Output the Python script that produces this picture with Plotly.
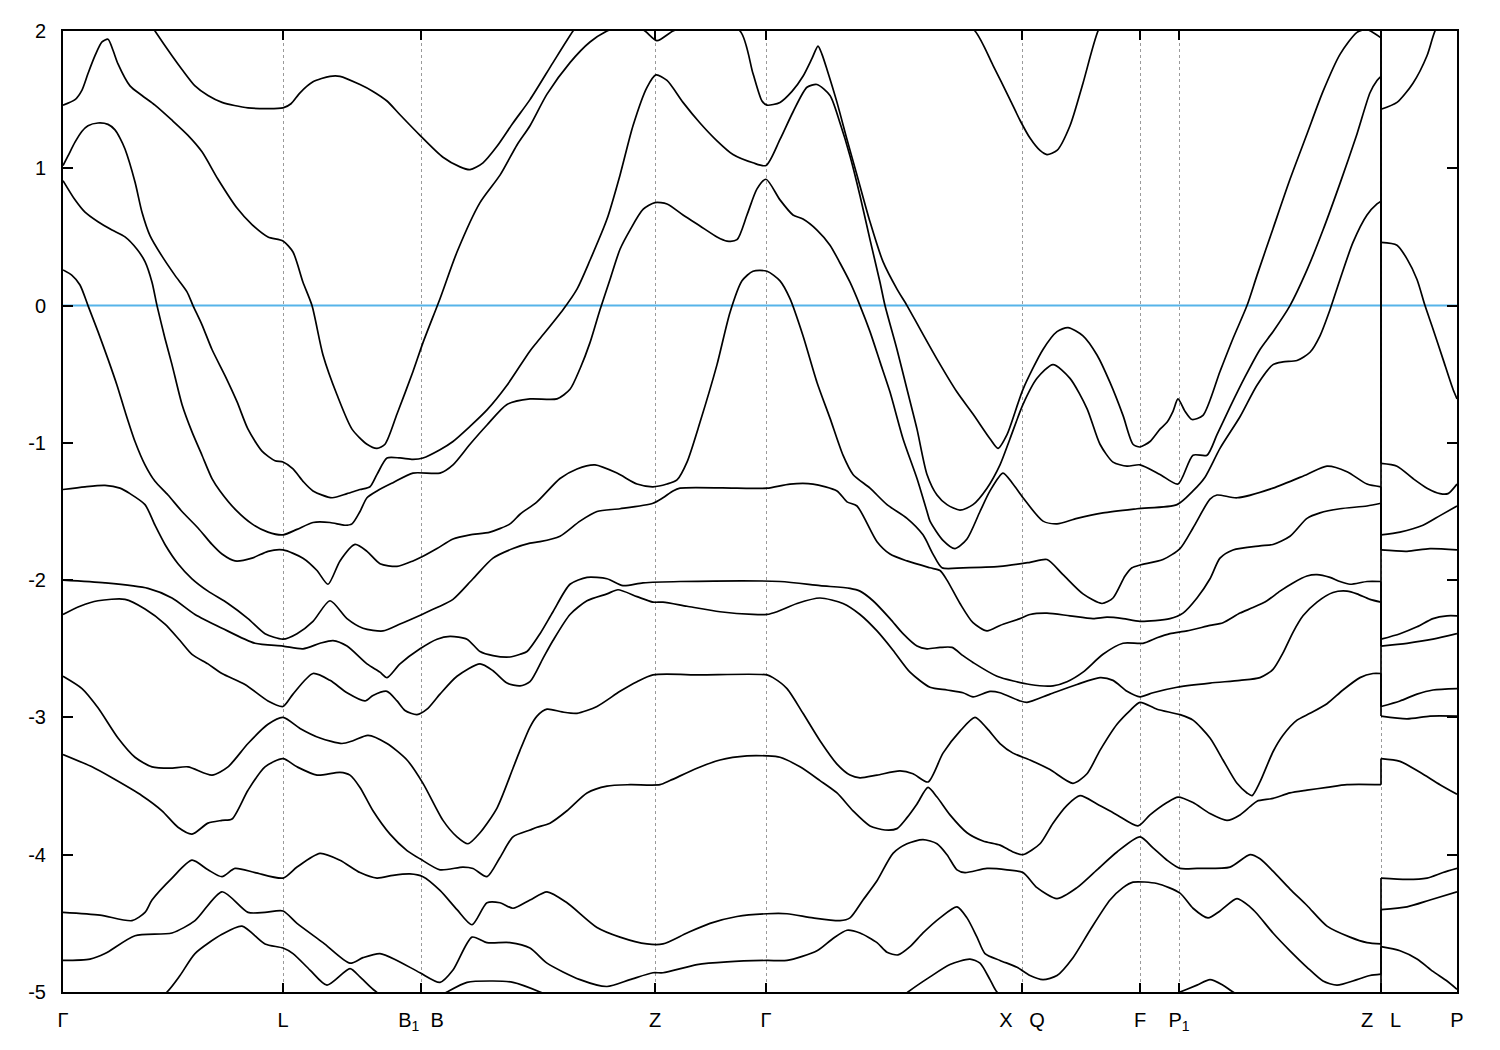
import plotly.graph_objects as go

# ---- axis data -------------------------------------------------------
K_TICKS = [0, 220, 358, 592, 703, 959, 1077, 1116, 1318, 1394]
K_LABELS = ["Γ", "L", "B<sub>1</sub>\u00a0\u00a0B", "Z", "Γ", "X\u00a0\u00a0\u00a0Q", "F",
            "P<sub>1</sub>", "Z\u00a0\u00a0\u00a0L", "P"]
K_BREAK = 1318          # discontinuity Z | L
E_TICKS = [2, 1, 0, -1, -2, -3, -4, -5]
E_LABELS = ["2", "1", "0", "-1", "-2", "-3", "-4", "-5"]
E_FERMI = 0.0

# ---- bands: (k, E) pairs; k = path coordinate, E in eV ---------------
band_00 = [(0, 2.6), (57, 2.4), (77, 2.17), (92, 2.0), (109, 1.82), (119, 1.72), (132, 1.60), (145, 1.53),
           (159, 1.48), (185, 1.44), (220, 1.44), (228, 1.47), (237, 1.55), (250, 1.63), (267, 1.67),
           (277, 1.67), (297, 1.61), (310, 1.56), (324, 1.49), (337, 1.39), (357, 1.24), (380, 1.08),
           (397, 1.01), (407, 0.99), (420, 1.04), (434, 1.16), (450, 1.33), (467, 1.50), (490, 1.77),
           (510, 2.0), (530, 2.2), (592, 2.5), (703, 2.5), (860, 2.3), (912, 2.0), (930, 1.75), (947, 1.50),
           (957, 1.35), (967, 1.22), (977, 1.13), (984, 1.10), (994, 1.13), (1007, 1.31), (1020, 1.62),
           (1035, 2.0), (1050, 2.2), (1200, 2.5), (1318, 2.4),
           (1318, 1.43), (1334, 1.48), (1350, 1.62), (1364, 1.82), (1372, 2.0), (1394, 2.3)]

band_01 = [(0, 1.46), (12, 1.50), (19, 1.57), (25, 1.69), (32, 1.82), (39, 1.92), (45, 1.94), (50, 1.86),
           (55, 1.76), (67, 1.60), (79, 1.53), (92, 1.46), (109, 1.35), (125, 1.24), (139, 1.12), (155, 0.92),
           (174, 0.71), (189, 0.59), (205, 0.50), (220, 0.47), (230, 0.39), (240, 0.17), (249, 0.0),
           (260, -0.36), (274, -0.65), (289, -0.90), (304, -1.01), (314, -1.04), (322, -1.01), (334, -0.79),
           (350, -0.48), (360, -0.27), (377, 0.05), (394, 0.39), (417, 0.75), (437, 0.95), (454, 1.17),
           (467, 1.31), (484, 1.54), (507, 1.77), (527, 1.92), (544, 2.0), (567, 2.06), (582, 2.0),
           (594, 1.93), (610, 2.0), (640, 2.08), (677, 2.0), (690, 1.69), (699, 1.49), (704, 1.46),
           (717, 1.48), (729, 1.56), (740, 1.67), (749, 1.80), (755, 1.89), (759, 1.83), (764, 1.72),
           (774, 1.48), (784, 1.21), (794, 0.95), (807, 0.61), (820, 0.32), (834, 0.12), (844, 0.0),
           (857, -0.17), (874, -0.39), (894, -0.63), (910, -0.79), (927, -0.97), (935, -1.04), (944, -0.94),
           (960, -0.61), (980, -0.32), (994, -0.19), (1005, -0.16), (1020, -0.22), (1034, -0.36),
           (1047, -0.56), (1060, -0.80), (1070, -1.01), (1077, -1.03), (1087, -0.99), (1097, -0.90),
           (1104, -0.85), (1110, -0.77), (1115, -0.68), (1122, -0.77), (1129, -0.83), (1140, -0.80),
           (1157, -0.48), (1170, -0.24), (1184, 0.0), (1194, 0.22), (1210, 0.56), (1227, 0.92), (1244, 1.25),
           (1260, 1.56), (1277, 1.83), (1294, 1.99), (1304, 2.01), (1318, 1.95),
           (1318, 0.46), (1334, 0.44), (1344, 0.34), (1354, 0.19), (1362, 0.0), (1370, -0.17), (1380, -0.39),
           (1390, -0.61), (1394, -0.68)]

band_02 = [(0, 1.02), (5, 1.09), (12, 1.19), (19, 1.27), (25, 1.31), (35, 1.33), (45, 1.32), (52, 1.28),
           (57, 1.22), (62, 1.14), (72, 0.90), (79, 0.68), (87, 0.51), (99, 0.36), (112, 0.22), (124, 0.10),
           (130, 0.0), (139, -0.14), (149, -0.32), (162, -0.51), (174, -0.70), (185, -0.90), (199, -1.06),
           (212, -1.13), (220, -1.14), (230, -1.19), (240, -1.28), (250, -1.35), (269, -1.40), (284, -1.37),
           (297, -1.34), (307, -1.32), (314, -1.23), (324, -1.11), (337, -1.11), (350, -1.12), (360, -1.11),
           (377, -1.05), (390, -0.99), (407, -0.88), (424, -0.76), (444, -0.58), (467, -0.33), (477, -0.24),
           (500, -0.03), (514, 0.12), (527, 0.33), (544, 0.63), (557, 0.95), (570, 1.31), (584, 1.59),
           (593, 1.68), (604, 1.64), (620, 1.48), (637, 1.33), (654, 1.20), (670, 1.10), (690, 1.04),
           (703, 1.02), (717, 1.21), (730, 1.41), (744, 1.59), (754, 1.61), (767, 1.53), (777, 1.33),
           (787, 1.09), (797, 0.80), (807, 0.48), (817, 0.17), (822, 0.0), (834, -0.32), (844, -0.61),
           (854, -0.90), (864, -1.23), (874, -1.38), (884, -1.45), (897, -1.49), (910, -1.45), (924, -1.33),
           (937, -1.16), (947, -0.97), (960, -0.72), (974, -0.53), (990, -0.43), (1007, -0.53),
           (1024, -0.75), (1037, -1.01), (1050, -1.14), (1064, -1.17), (1077, -1.16), (1097, -1.23),
           (1115, -1.30), (1130, -1.09), (1144, -1.09), (1154, -0.94), (1167, -0.74), (1182, -0.52),
           (1197, -0.32), (1210, -0.19), (1227, 0.0), (1244, 0.26), (1260, 0.55), (1277, 0.89), (1294, 1.25),
           (1307, 1.55), (1314, 1.64), (1318, 1.67),
           (1318, -1.15), (1334, -1.17), (1350, -1.26), (1364, -1.33), (1377, -1.37), (1385, -1.37),
           (1394, -1.30)]

band_03 = [(0, 0.91), (12, 0.77), (22, 0.68), (35, 0.61), (49, 0.55), (62, 0.50), (74, 0.41), (82, 0.32),
           (89, 0.17), (94, 0.0), (102, -0.24), (109, -0.43), (119, -0.72), (129, -0.92), (139, -1.09),
           (149, -1.26), (157, -1.35), (173, -1.49), (189, -1.59), (205, -1.65), (220, -1.67), (234, -1.63),
           (250, -1.58), (267, -1.58), (282, -1.60), (289, -1.59), (297, -1.50), (304, -1.40), (314, -1.35),
           (330, -1.29), (350, -1.22), (377, -1.22), (390, -1.16), (407, -1.01), (424, -0.87), (444, -0.72),
           (467, -0.68), (494, -0.68), (507, -0.61), (517, -0.46), (527, -0.27), (537, -0.03), (547, 0.19),
           (557, 0.41), (567, 0.55), (580, 0.70), (592, 0.75), (604, 0.74), (620, 0.66), (637, 0.58),
           (654, 0.50), (664, 0.47), (674, 0.48), (684, 0.66), (694, 0.85), (703, 0.92), (717, 0.77),
           (730, 0.66), (740, 0.63), (754, 0.55), (767, 0.44), (777, 0.31), (787, 0.17), (797, 0.0),
           (807, -0.19), (817, -0.41), (827, -0.63), (840, -0.97), (854, -1.26), (864, -1.50), (867, -1.57),
           (880, -1.71), (892, -1.77), (904, -1.70), (917, -1.50), (927, -1.35), (940, -1.22), (950, -1.30),
           (960, -1.40), (980, -1.57), (994, -1.59), (1014, -1.55), (1040, -1.51), (1074, -1.48),
           (1114, -1.45), (1130, -1.35), (1142, -1.25), (1157, -1.04), (1177, -0.81), (1194, -0.58),
           (1210, -0.43), (1220, -0.41), (1234, -0.40), (1247, -0.34), (1257, -0.22), (1267, -0.03),
           (1277, 0.19), (1290, 0.46), (1304, 0.66), (1314, 0.74), (1318, 0.76),
           (1318, -1.67), (1337, -1.65), (1360, -1.60), (1377, -1.53), (1394, -1.46)]

band_04 = [(0, 0.26), (9, 0.22), (17, 0.15), (25, 0.0), (35, -0.19), (45, -0.39), (54, -0.58), (62, -0.77),
           (72, -0.99), (82, -1.16), (92, -1.28), (105, -1.38), (119, -1.50), (135, -1.62), (149, -1.74),
           (159, -1.81), (172, -1.86), (189, -1.84), (205, -1.79), (220, -1.78), (240, -1.84), (254, -1.93),
           (265, -2.03), (277, -1.86), (292, -1.74), (304, -1.79), (317, -1.88), (334, -1.90), (350, -1.86),
           (359, -1.83), (374, -1.77), (390, -1.70), (407, -1.67), (427, -1.65), (447, -1.59), (457, -1.52),
           (474, -1.43), (497, -1.26), (514, -1.19), (532, -1.16), (554, -1.22), (574, -1.30), (590, -1.32),
           (604, -1.30), (614, -1.27), (624, -1.14), (637, -0.85), (654, -0.43), (667, -0.05), (679, 0.18),
           (690, 0.25), (704, 0.25), (717, 0.18), (727, 0.05), (740, -0.22), (754, -0.56), (767, -0.82),
           (780, -1.09), (790, -1.23), (807, -1.33), (824, -1.45), (844, -1.55), (860, -1.67), (870, -1.81),
           (879, -1.91), (900, -1.91), (937, -1.90), (967, -1.87), (984, -1.85), (1000, -1.96),
           (1020, -2.10), (1039, -2.17), (1050, -2.13), (1062, -1.97), (1069, -1.91), (1077, -1.89),
           (1100, -1.85), (1117, -1.77), (1130, -1.62), (1147, -1.41), (1154, -1.38), (1174, -1.40),
           (1210, -1.33), (1244, -1.23), (1264, -1.17), (1284, -1.21), (1304, -1.30), (1318, -1.32),
           (1318, -1.78), (1344, -1.79), (1367, -1.77), (1394, -1.78)]

band_05 = [(0, -1.34), (22, -1.32), (42, -1.31), (57, -1.33), (67, -1.37), (82, -1.45), (92, -1.60),
           (102, -1.74), (115, -1.88), (129, -1.99), (145, -2.08), (165, -2.17), (185, -2.28), (202, -2.39),
           (220, -2.43), (234, -2.39), (250, -2.30), (267, -2.15), (284, -2.28), (300, -2.35), (320, -2.37),
           (337, -2.32), (359, -2.25), (374, -2.20), (390, -2.14), (410, -1.99), (430, -1.84), (450, -1.77),
           (467, -1.73), (477, -1.72), (497, -1.68), (517, -1.57), (534, -1.50), (557, -1.48), (590, -1.44),
           (600, -1.40), (610, -1.35), (617, -1.33), (674, -1.33), (704, -1.33), (727, -1.30), (750, -1.30),
           (774, -1.35), (784, -1.43), (794, -1.46), (814, -1.72), (827, -1.81), (844, -1.86), (867, -1.91),
           (877, -1.93), (884, -2.00), (897, -2.17), (910, -2.31), (924, -2.37), (937, -2.33), (957, -2.28),
           (967, -2.25), (984, -2.24), (1007, -2.26), (1030, -2.28), (1044, -2.27), (1060, -2.28),
           (1077, -2.30), (1107, -2.28), (1120, -2.24), (1134, -2.13), (1147, -1.99), (1157, -1.84),
           (1170, -1.78), (1197, -1.75), (1210, -1.74), (1227, -1.68), (1244, -1.55), (1257, -1.51),
           (1277, -1.48), (1304, -1.46), (1318, -1.44),
           (1318, -2.43), (1337, -2.39), (1354, -2.34), (1370, -2.28), (1384, -2.26), (1394, -2.26)]

band_06 = [(0, -2.00), (42, -2.02), (85, -2.06), (109, -2.13), (132, -2.25), (159, -2.35), (192, -2.46),
           (220, -2.48), (240, -2.50), (257, -2.46), (270, -2.44), (284, -2.48), (304, -2.61), (317, -2.67),
           (324, -2.71), (337, -2.61), (357, -2.50), (374, -2.43), (387, -2.41), (404, -2.43), (417, -2.52),
           (430, -2.55), (447, -2.56), (457, -2.54), (464, -2.52), (477, -2.39), (490, -2.23), (507, -2.03),
           (524, -1.98), (544, -1.99), (560, -2.04), (580, -2.02), (617, -2.01), (717, -2.01), (757, -2.04),
           (787, -2.06), (797, -2.08), (810, -2.15), (827, -2.28), (840, -2.39), (854, -2.48), (864, -2.50),
           (877, -2.49), (889, -2.49), (900, -2.55), (910, -2.60), (934, -2.70), (967, -2.76), (990, -2.77),
           (1004, -2.74), (1020, -2.67), (1040, -2.54), (1060, -2.46), (1080, -2.46), (1094, -2.42),
           (1107, -2.39), (1124, -2.37), (1147, -2.33), (1160, -2.31), (1177, -2.24), (1190, -2.20),
           (1204, -2.15), (1217, -2.08), (1230, -2.02), (1244, -1.97), (1254, -1.96), (1267, -1.98),
           (1277, -2.01), (1287, -2.03), (1304, -2.01), (1318, -2.01),
           (1318, -2.48), (1344, -2.46), (1370, -2.43), (1394, -2.39)]

band_07 = [(0, -2.25), (17, -2.19), (35, -2.15), (62, -2.14), (82, -2.21), (102, -2.32), (117, -2.44),
           (129, -2.54), (145, -2.61), (159, -2.68), (182, -2.76), (205, -2.88), (220, -2.92), (230, -2.83),
           (250, -2.68), (267, -2.73), (284, -2.82), (302, -2.88), (310, -2.84), (324, -2.81), (334, -2.88),
           (342, -2.95), (354, -2.98), (364, -2.94), (377, -2.83), (394, -2.70), (417, -2.61), (430, -2.66),
           (444, -2.75), (457, -2.77), (467, -2.74), (480, -2.57), (490, -2.44), (507, -2.25), (524, -2.15),
           (544, -2.10), (555, -2.07), (574, -2.12), (590, -2.16), (600, -2.16), (624, -2.19), (657, -2.23),
           (690, -2.25), (704, -2.25), (714, -2.23), (734, -2.17), (757, -2.13), (780, -2.17), (797, -2.25),
           (814, -2.37), (830, -2.51), (847, -2.67), (867, -2.78), (884, -2.80), (900, -2.82), (910, -2.85),
           (927, -2.81), (937, -2.82), (957, -2.88), (964, -2.89), (987, -2.83), (1014, -2.76),
           (1037, -2.71), (1050, -2.73), (1064, -2.81), (1077, -2.85), (1090, -2.82), (1114, -2.78),
           (1147, -2.75), (1177, -2.73), (1197, -2.71), (1210, -2.65), (1220, -2.53), (1230, -2.38),
           (1240, -2.26), (1254, -2.16), (1270, -2.09), (1284, -2.08), (1294, -2.10), (1307, -2.14),
           (1318, -2.16),
           (1318, -2.92), (1337, -2.88), (1354, -2.83), (1370, -2.80), (1394, -2.79)]

band_08 = [(0, -2.70), (19, -2.79), (35, -2.93), (55, -3.15), (72, -3.29), (89, -3.36), (107, -3.37),
           (125, -3.36), (149, -3.42), (165, -3.36), (185, -3.19), (205, -3.05), (220, -3.00), (237, -3.08),
           (257, -3.15), (279, -3.19), (290, -3.17), (305, -3.13), (324, -3.19), (344, -3.31), (360, -3.48),
           (380, -3.75), (394, -3.87), (405, -3.92), (417, -3.84), (434, -3.66), (450, -3.37), (457, -3.24),
           (467, -3.07), (474, -2.99), (484, -2.94), (499, -2.96), (514, -2.97), (534, -2.92), (557, -2.81),
           (574, -2.74), (590, -2.69), (637, -2.69), (704, -2.69), (710, -2.71), (724, -2.79), (740, -2.97),
           (757, -3.17), (774, -3.34), (787, -3.42), (797, -3.44), (814, -3.42), (837, -3.39), (850, -3.41),
           (865, -3.47), (880, -3.26), (897, -3.10), (912, -3.00), (924, -3.08), (937, -3.19), (950, -3.26),
           (967, -3.31), (987, -3.38), (1010, -3.48), (1024, -3.41), (1037, -3.24), (1054, -3.05),
           (1067, -2.95), (1077, -2.89), (1094, -2.94), (1117, -2.98), (1130, -3.02), (1147, -3.15),
           (1160, -3.31), (1174, -3.48), (1184, -3.55), (1189, -3.57), (1197, -3.47), (1210, -3.25),
           (1220, -3.13), (1234, -3.02), (1247, -2.97), (1264, -2.90), (1280, -2.80), (1297, -2.71),
           (1310, -2.68), (1318, -2.68),
           (1318, -2.99), (1344, -3.01), (1367, -2.99), (1394, -2.99)]

band_09 = [(0, -3.27), (29, -3.36), (49, -3.44), (79, -3.57), (99, -3.68), (115, -3.80), (129, -3.85),
           (145, -3.77), (159, -3.75), (169, -3.74), (185, -3.53), (202, -3.36), (220, -3.30), (234, -3.36),
           (254, -3.42), (277, -3.40), (287, -3.42), (297, -3.51), (310, -3.68), (327, -3.85), (344, -3.97),
           (357, -4.03), (377, -4.11), (400, -4.09), (410, -4.10), (424, -4.16), (437, -4.02), (450, -3.87),
           (467, -3.82), (474, -3.80), (487, -3.77), (504, -3.68), (524, -3.55), (544, -3.50), (567, -3.49),
           (597, -3.49), (607, -3.46), (634, -3.37), (657, -3.31), (684, -3.28), (704, -3.28), (717, -3.29),
           (737, -3.36), (757, -3.46), (774, -3.55), (790, -3.68), (807, -3.79), (822, -3.82), (834, -3.81),
           (844, -3.73), (854, -3.63), (865, -3.51), (874, -3.58), (887, -3.71), (904, -3.84), (920, -3.90),
           (937, -3.93), (950, -3.98), (960, -4.00), (977, -3.92), (990, -3.77), (1004, -3.64),
           (1017, -3.57), (1034, -3.63), (1054, -3.71), (1075, -3.79), (1087, -3.71), (1104, -3.62),
           (1115, -3.58), (1130, -3.62), (1147, -3.70), (1164, -3.75), (1177, -3.71), (1187, -3.65),
           (1194, -3.61), (1210, -3.59), (1227, -3.55), (1244, -3.53), (1264, -3.51), (1284, -3.49),
           (1318, -3.49),
           (1318, -3.30), (1337, -3.32), (1357, -3.40), (1377, -3.49), (1394, -3.56)]

band_10 = [(0, -4.42), (37, -4.44), (69, -4.48), (82, -4.42), (89, -4.33), (109, -4.17), (129, -4.04),
           (145, -4.11), (159, -4.16), (172, -4.10), (192, -4.13), (220, -4.17), (234, -4.09), (257, -3.99),
           (277, -4.04), (297, -4.13), (314, -4.17), (330, -4.15), (347, -4.14), (360, -4.16), (377, -4.26),
           (394, -4.40), (409, -4.51), (424, -4.35), (437, -4.35), (450, -4.39), (467, -4.33), (484, -4.27),
           (504, -4.35), (534, -4.53), (557, -4.60), (584, -4.65), (600, -4.65), (624, -4.57), (647, -4.50),
           (674, -4.45), (704, -4.43), (724, -4.43), (750, -4.46), (777, -4.48), (787, -4.46), (800, -4.33),
           (814, -4.19), (830, -3.99), (844, -3.92), (860, -3.89), (874, -3.92), (884, -4.00), (894, -4.11),
           (902, -4.13), (924, -4.10), (944, -4.11), (960, -4.13), (974, -4.24), (994, -4.32), (1014, -4.24),
           (1034, -4.11), (1054, -3.98), (1077, -3.87), (1090, -3.95), (1104, -4.04), (1117, -4.10),
           (1134, -4.10), (1167, -4.09), (1187, -4.00), (1197, -4.03), (1210, -4.12), (1227, -4.25),
           (1244, -4.37), (1264, -4.52), (1287, -4.60), (1304, -4.64), (1318, -4.65),
           (1318, -4.17), (1344, -4.18), (1364, -4.17), (1380, -4.13), (1394, -4.10)]

band_11 = [(0, -4.77), (27, -4.76), (42, -4.72), (72, -4.59), (109, -4.57), (132, -4.48), (159, -4.27),
           (185, -4.42), (202, -4.42), (220, -4.41), (234, -4.50), (260, -4.64), (287, -4.79), (300, -4.75),
           (317, -4.72), (334, -4.77), (357, -4.86), (377, -4.93), (390, -4.84), (409, -4.60), (424, -4.64),
           (447, -4.64), (467, -4.68), (484, -4.79), (517, -4.91), (544, -4.96), (567, -4.91), (590, -4.86),
           (600, -4.86), (634, -4.80), (664, -4.78), (704, -4.77), (724, -4.77), (754, -4.70), (770, -4.61),
           (784, -4.55), (797, -4.57), (814, -4.64), (824, -4.71), (835, -4.73), (847, -4.67), (860, -4.57),
           (877, -4.46), (894, -4.38), (904, -4.46), (914, -4.60), (922, -4.72), (937, -4.77), (954, -4.82),
           (967, -4.88), (980, -4.91), (994, -4.88), (1010, -4.75), (1027, -4.55), (1047, -4.33),
           (1060, -4.24), (1070, -4.20), (1094, -4.21), (1117, -4.28), (1130, -4.39), (1145, -4.46),
           (1157, -4.41), (1174, -4.32), (1187, -4.38), (1194, -4.43), (1210, -4.57), (1227, -4.70),
           (1244, -4.82), (1260, -4.92), (1274, -4.95), (1294, -4.91), (1307, -4.88), (1318, -4.87),
           (1318, -4.40), (1344, -4.38), (1367, -4.33), (1394, -4.27)]

band_12 = [(0, -5.5), (60, -5.25), (104, -5.00), (117, -4.88), (132, -4.72), (159, -4.58), (179, -4.52),
           (202, -4.65), (220, -4.68), (230, -4.72), (247, -4.84), (264, -4.95), (287, -4.83), (297, -4.89),
           (310, -4.98), (330, -5.08), (365, -5.08), (384, -5.00), (404, -4.93), (430, -4.92), (450, -4.93),
           (477, -5.00), (520, -5.15), (700, -5.3), (820, -5.15), (845, -5.00), (867, -4.89), (887, -4.80),
           (907, -4.76), (917, -4.79), (927, -4.91), (934, -5.00), (960, -5.12), (1050, -5.2), (1117, -5.00),
           (1134, -4.95), (1147, -4.91), (1160, -4.95), (1170, -5.00), (1200, -5.12), (1318, -5.2),
           (1318, -4.67), (1337, -4.70), (1354, -4.76), (1370, -4.85), (1384, -4.92), (1394, -4.98)]

BANDS = [band_00, band_01, band_02, band_03, band_04, band_05, band_06,
         band_07, band_08, band_09, band_10, band_11, band_12]

# ---- figure -----------------------------------------------------------
FONT = "Liberation Sans, Arial, sans-serif"
fig = go.Figure()

fig.add_trace(go.Scatter(x=[K_TICKS[0], K_TICKS[-1]], y=[E_FERMI, E_FERMI], mode="lines",
                         line=dict(color="#56B4E9", width=2), hoverinfo="skip", showlegend=False))

for band in BANDS:
    ks = [p[0] for p in band]
    es = [p[1] for p in band]
    idx = [i for i, k in enumerate(ks) if k == K_BREAK]
    i1, i2 = idx[0], idx[1]
    for xs, ys in ((ks[:i1 + 1], es[:i1 + 1]), (ks[i2:], es[i2:])):
        fig.add_trace(go.Scatter(x=xs, y=ys, mode="lines",
                                 line=dict(color="black", width=1.7, shape="spline", smoothing=0.7),
                                 hoverinfo="skip", showlegend=False))
    fig.add_trace(go.Scatter(x=[K_BREAK, K_BREAK], y=[es[i1], es[i2]], mode="lines",
                             line=dict(color="black", width=1.7), hoverinfo="skip", showlegend=False))

fig.update_layout(
    width=1500, height=1050,
    margin=dict(l=55, r=51, t=20, b=66),
    paper_bgcolor="white", plot_bgcolor="white",
    font=dict(family=FONT, size=20, color="black"),
    showlegend=False,
)
fig.update_xaxes(
    range=[K_TICKS[0], K_TICKS[-1]], tickmode="array", tickvals=K_TICKS, ticktext=K_LABELS,
    showgrid=True, gridcolor="#9a9a9a", gridwidth=1, griddash="3px,3px",
    ticks="inside", ticklen=9, tickwidth=1.5, tickcolor="black",
    showline=True, linewidth=2, linecolor="black", mirror="ticks", zeroline=False,
    tickfont=dict(family=FONT, size=20, color="black"), ticklabelstandoff=9,
)
fig.update_yaxes(
    range=[-5, 2], tickmode="array", tickvals=E_TICKS, ticktext=E_LABELS,
    showgrid=False, ticks="inside", ticklen=10, tickwidth=1.5, tickcolor="black",
    showline=True, linewidth=2, linecolor="black", mirror="ticks", zeroline=False,
    tickfont=dict(family=FONT, size=20, color="black"), ticklabelstandoff=11,
)

fig.write_html("out.html")
